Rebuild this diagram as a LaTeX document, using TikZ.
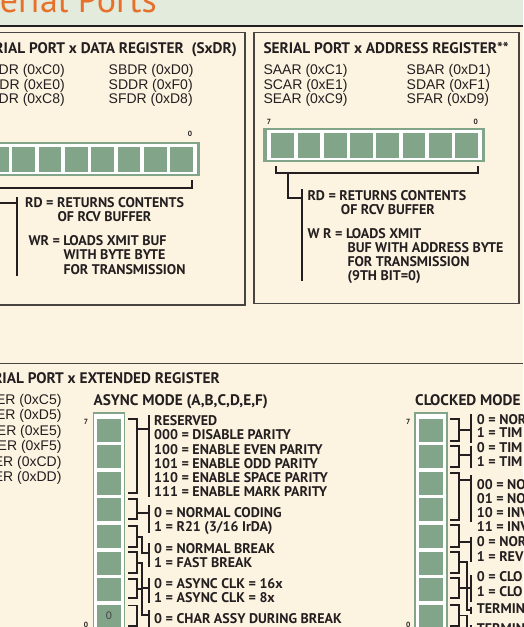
\documentclass[tikz,border=0pt]{standalone}
\usepackage{fontspec}
\setmainfont{Liberation Sans}
\newfontfamily\condfont{PT Sans}
\newfontfamily\titlefont{PT Sans}

\definecolor{regGreen}{RGB}{130,165,138}
\definecolor{paper}{RGB}{253,243,225}
\definecolor{band}{RGB}{227,235,221}
\definecolor{ink}{RGB}{35,31,32}
\definecolor{rule}{RGB}{72,68,66}
\definecolor{titleOrange}{RGB}{232,112,42}

\begin{document}
\begin{tikzpicture}[x=1pt, y=-1pt,
  lbl/.style={anchor=base west, inner sep=0pt, text=ink,
    font=\condfont\bfseries\fontsize{14}{14}\selectfont},
  head/.style={lbl, font=\condfont\bfseries\fontsize{15.3}{16}\selectfont},
  regname/.style={anchor=base west, inner sep=0pt, text=ink,
    font=\fontsize{14}{14}\selectfont},
  bitno/.style={inner sep=0pt, text=ink,
    font=\condfont\bfseries\fontsize{7.5}{8}\selectfont},
  hcell/.style={fill=regGreen, inner sep=0pt, anchor=north west,
    minimum width=22.7pt, minimum height=25pt},
  vcell/.style={fill=regGreen, inner sep=0pt, anchor=north west,
    minimum width=24.3pt, minimum height=23pt},
  boxline/.style={draw=rule, line width=1.3pt},
  brk/.style={draw=ink, line width=1.8pt}]
  \useasboundingbox (0,0) rectangle (523,627);
  \clip (0,0) rectangle (523,627);

  % Title band
  \fill[band] (0,0) rectangle (523,25);
  \node[anchor=base east, inner sep=0pt, text=titleOrange,
    font=\titlefont\fontsize{36}{36}\selectfont] (title) at (157,12) {Serial Ports};
  \fill[paper] (0,25) rectangle (523,627);
  \draw[line width=2.2pt, ink] (0,26) -- (523,26);

  % Data register box
  \draw[boxline] (-5,32.5) rectangle (245,305);
  \node[head, anchor=base east] (sxdr) at (237,53.3) {SERIAL PORT x DATA REGISTER\ \ (SxDR)};
  \foreach \n/\y [count=\i] in {{SADR (0xC0)}/74, {SCDR (0xE0)}/89, {SEDR (0xC8)}/103.5}
    \node[regname, anchor=base east] (dl\i) at (65,\y) {\n};
  \foreach \n/\y [count=\i] in {{SBDR (0xD0)}/74, {SDDR (0xF0)}/89, {SFDR (0xD8)}/103.5}
    \node[regname] (dr\i) at (108.5,\y) {\n};
  \fill[regGreen] (-30,142.3) rectangle (200,175.7);
  \fill[white] (-30,144.2) rectangle (196.5,173.8);
  \foreach \b in {0,...,7}
    \node[hcell] (db\b) at ({192.7-26.3*\b-22.7},146.4) {};
  \node[bitno] (dbzero) at (190,134.3) {0};
  \draw[brk] (192.3,180) -- (192.3,188.3) -- (-20,188.3);
  \draw[brk] (-3,188.3) -- (-3,202.7) -- (17.3,202.7);
  \draw[brk] (17.3,197) -- (17.3,275.7);
  \node[lbl] (drd) at (25,207.3) {RD = RETURNS CONTENTS};
  \node[lbl] (drd2) at (57.3,221.7) {OF RCV BUFFER};
  \node[lbl] (dwr) at (28.3,245) {WR = LOADS XMIT BUF};
  \node[lbl] (dwr2) at (63.3,259) {WITH BYTE BYTE};
  \node[lbl] (dwr3) at (63.3,274) {FOR TRANSMISSION};

  % Address register box
  \draw[boxline] (254,32.5) rectangle (519,303.5);
  \node[head] (sxar) at (263.3,53.3) {SERIAL PORT x ADDRESS REGISTER**};
  \foreach \n/\y [count=\i] in {{SAAR (0xC1)}/74, {SCAR (0xE1)}/89, {SEAR (0xC9)}/103.5}
    \node[regname] (al\i) at (263.3,\y) {\n};
  \foreach \n/\y [count=\i] in {{SBAR (0xD1)}/74, {SDAR (0xF1)}/89, {SFAR (0xD9)}/103.5}
    \node[regname] (ar\i) at (406.5,\y) {\n};
  \fill[regGreen] (263,128.3) rectangle (485,161.7);
  \fill[white] (266.7,130.2) rectangle (481.5,159.8);
  \foreach \b in {0,...,7}
    \node[hcell] (ab\b) at ({455.1-26.3*\b},132.4) {};
  \node[bitno] (abseven) at (269,122) {7};
  \node[bitno] (abzero) at (475.7,122) {0};
  \draw[brk] (276,166) -- (276,173.3) -- (478,173.3) -- (478,166);
  \draw[brk] (288.3,173.3) -- (288.3,198.3) -- (301.7,198.3);
  \draw[brk] (301.7,189) -- (301.7,280.7);
  \node[lbl] (ard) at (307.3,200.7) {RD = RETURNS CONTENTS};
  \node[lbl] (ard2) at (340.7,214.3) {OF RCV BUFFER};
  \node[lbl] (awr) at (307.3,238.3) {W R = LOADS XMIT};
  \node[lbl] (awr2) at (347.3,252.3) {BUF WITH ADDRESS BYTE};
  \node[lbl] (awr3) at (347.3,266.3) {FOR TRANSMISSION};
  \node[lbl] (awr4) at (347.3,280.5) {(9TH BIT=0)};

  % Extended register
  \draw[line width=0.9pt, rule] (0,363) -- (523,363);
  \node[head, anchor=base east] (sxer) at (220,383.3) {SERIAL PORT x EXTENDED REGISTER};
  \foreach \n/\y [count=\i] in {{SAER (0xC5)}/404, {SBER (0xD5)}/419.3, {SCER (0xE5)}/435,
      {SDER (0xF5)}/450.7, {SEER (0xCD)}/466, {SFER (0xDD)}/481.7}
    \node[regname, anchor=base east] (el\i) at (61.7,\y) {\n};

  % Async mode register
  \node[head] (async) at (93.3,405) {ASYNC MODE (A,B,C,D,E,F)};
  \fill[regGreen] (92.7,411.7) rectangle (125,640);
  \fill[white] (94.2,414) rectangle (123.5,640);
  \foreach \k in {0,...,7}
    \node[vcell] (am\k) at (96.7,{418.3+26.6*\k}) {};
  \node[inner sep=0pt, text=ink!85, font=\fontsize{11}{11}\selectfont] (amzero) at (am7) {0};
  \node[bitno] (amseven) at (86,421.7) {7};
  \node[bitno] (amzerono) at (86,625) {0};
  \foreach \t/\u in {419.3/493.3, 499/519.3, 525.7/546.7, 552.3/573.3, 579/598.3, 605.5/626}
    \draw[brk] (128.3,\t) -| (137.3,\u) -- (128.3,\u);
  \draw[brk] (137.3,429.3) -- (149.3,429.3);
  \draw[brk] (137.3,513.3) -- (149.3,513.3);
  \draw[brk] (137.3,536.7) -| (141.7,553.3) -- (149.3,553.3);
  \draw[brk] (137.3,562.8) -| (141.7,588.3) -- (149.3,588.3);
  \draw[brk] (137.3,588.7) -| (141.7,615) -- (149.3,615);
  \foreach \t/\u in {415/496.7, 505/533, 543.3/566.7, 578.3/602.7, 610/640}
    \draw[brk] (149.3,\t) -- (149.3,\u);
  \foreach \n/\y [count=\i] in {RESERVED/425, {000 = DISABLE PARITY}/439.3,
      {100 = ENABLE EVEN PARITY}/454, {101 = ENABLE ODD PARITY}/468.3,
      {110 = ENABLE SPACE PARITY}/482.7, {111 = ENABLE MARK PARITY}/496.7,
      {0 = NORMAL CODING}/517.3, {1 = R21 (3/16 IrDA)}/531.7,
      {0 = NORMAL BREAK}/553.3, {1 = FAST BREAK}/567.3,
      {0 = ASYNC CLK = 16x}/588.3, {1 = ASYNC CLK = 8x}/602.7,
      {0 = CHAR ASSY DURING BREAK}/623.3}
    \node[lbl] (at\i) at (154,\y) {\n};

  % Clocked mode register
  \node[head] (clocked) at (415,405) {CLOCKED MODE};
  \fill[regGreen] (414.3,411.7) rectangle (447.7,640);
  \fill[white] (416,414) rectangle (446,640);
  \foreach \k in {0,...,7}
    \node[vcell] (cm\k) at (418.3,{418.3+26.6*\k}) {};
  \node[bitno] (cmseven) at (408.3,421.7) {7};
  \node[bitno] (cmzerono) at (408.3,625) {0};
  \foreach \t/\u in {419.3/441, 445.7/467.3, 473.3/520, 525/546.7, 551.7/573.3, 578.3/598.3, 605/626}
    \draw[brk] (450,\t) -| (459,\u) -- (450,\u);
  \draw[brk] (459,430) -- (470.7,430);
  \draw[brk] (459,455) -- (470.7,455);
  \draw[brk] (459,480) -- (470.7,480);
  \draw[brk] (459,542.3) -- (470.7,542.3);
  \draw[brk] (459,562) -| (467.3,588) -- (470.7,588);
  \draw[brk] (459,588.3) -| (467.3,610) -- (470.7,610);
  \draw[brk] (459,615.5) -| (467.3,632) -- (470.7,632);
  \foreach \t/\u in {414.3/443.3, 445.7/468.3, 475/521.7, 536.7/561.7, 575/601.7, 606.7/614, 625/640}
    \draw[brk] (470.7,\t) -- (470.7,\u);
  \foreach \n/\y [count=\i] in {{0 = NOR}/424, {1 = TIM}/437.3, {0 = TIM}/452.3, {1 = TIM}/466,
      {00 = NO}/489.3, {01 = NO}/503.3, {10 = INV}/517.3, {11 = INV}/531.7,
      {0 = NOR}/546.7, {1 = REV}/561.7, {0 = CLO}/581.7, {1 = CLO}/596.7,
      TERMIN/613.3, TERMIN/633}
    \node[lbl] (ct\i) at (476.7,\y) {\n};
\end{tikzpicture}
\end{document}
